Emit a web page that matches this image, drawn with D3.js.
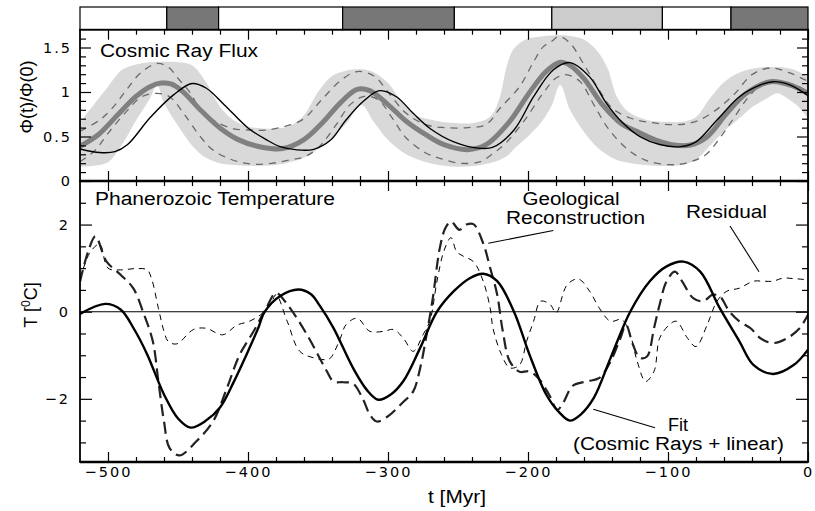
<!DOCTYPE html>
<html><head><meta charset="utf-8">
<script src="https://cdn.jsdelivr.net/npm/d3@7"></script>
<style>body{margin:0;background:#fff}svg{display:block}</style>
</head><body>
<svg id="c" width="815" height="511"></svg>
<script>
// ---- climate-mode band (Myr) ----
const periodStart = [-520, -458, -421, -332.4, -252.6, -183, -104, -55];
const periodEnd   = [-458, -421, -332.4, -252.6, -183, -104, -55, 0];
const periodMode  = ["warm", "cold", "warm", "cold", "warm", "cool", "warm", "cold"];

// ---- cosmic ray flux: allowed range ----
const tBand = [-520,-510,-500,-490,-480,-470,-465,-460,-450,-440,-430,-420,-410,-400,-390,-380,-370,-360,-350,-340,-330,-319,-310,-300,-290,-280,-270,-260,-250,-240,-230,-225,-220,-215,-210,-200,-190,-183,-177,-170,-160,-150,-143,-137,-130,-120,-110,-100,-90,-80,-70,-60,-50,-40,-30,-22,-15,-8,0];
const bandHigh = [0.66,0.86,1.06,1.25,1.31,1.335,1.34,1.34,1.335,1.30,1.11,0.835,0.68,0.61,0.59,0.59,0.62,0.74,1.0,1.18,1.24,1.255,1.22,1.10,0.89,0.74,0.69,0.66,0.65,0.65,0.69,0.76,0.95,1.3,1.49,1.6,1.625,1.635,1.64,1.63,1.59,1.45,1.26,0.96,0.8,0.71,0.67,0.665,0.665,0.72,0.93,1.11,1.21,1.26,1.28,1.28,1.27,1.24,1.17];
const bandLow  = [0.16,0.17,0.21,0.41,0.68,0.93,1.08,0.88,0.62,0.40,0.26,0.2,0.18,0.17,0.17,0.18,0.21,0.26,0.36,0.49,0.64,0.854,0.66,0.46,0.33,0.25,0.2,0.17,0.16,0.165,0.19,0.21,0.24,0.28,0.36,0.5,0.67,0.85,1.08,0.8,0.55,0.37,0.29,0.24,0.21,0.185,0.17,0.172,0.18,0.24,0.4,0.56,0.69,0.83,0.92,0.985,0.93,0.85,0.705];

// nominal CRF (thick grey)
const tNominal = [-520,-507,-493,-480,-470,-462,-455,-447,-433,-420,-407,-390,-375,-360,-347,-333,-322,-313,-300,-287,-273,-260,-243,-230,-213,-200,-187,-177,-170,-160,-147,-133,-120,-107,-96,-84,-72,-58,-44,-27,-13,0];
const crfNominal = [0.39,0.52,0.745,0.95,1.06,1.10,1.09,1.01,0.783,0.596,0.465,0.38,0.365,0.465,0.652,0.895,1.03,1.015,0.858,0.671,0.52,0.408,0.352,0.408,0.671,0.97,1.232,1.335,1.30,1.15,0.86,0.64,0.54,0.45,0.404,0.404,0.498,0.76,0.985,1.116,1.08,0.985];

// alternative reconstructions (dashed)
const tAltHigh = [-520,-506,-496,-487,-477,-465,-457,-449,-441,-434,-425,-411,-399,-387,-370,-360,-347,-333,-322,-310,-300,-287,-273,-260,-243,-230,-220,-206,-196,-189,-183,-178,-170,-160,-150,-140,-127,-110,-93,-80,-67,-53,-40,-27,-13,0];
const crfAltHigh = [0.56,0.685,0.835,1.02,1.21,1.32,1.28,1.135,0.985,0.798,0.685,0.59,0.573,0.573,0.63,0.7,0.92,1.14,1.23,1.18,1.0,0.76,0.633,0.6,0.6,0.633,0.817,1.06,1.34,1.51,1.57,1.625,1.55,1.307,1.045,0.82,0.708,0.652,0.633,0.67,0.783,0.97,1.195,1.27,1.214,1.12];
const tAltLow = [-520,-509,-500,-488,-476,-465,-456,-446,-434,-425,-411,-397,-383,-369,-360,-350,-337,-327,-317,-307,-297,-287,-273,-263,-249,-234,-225,-217,-203,-190,-180,-173,-163,-153,-143,-130,-117,-100,-87,-73,-63,-53,-43,-33,-20,-7,0];
const crfAltLow = [0.217,0.348,0.536,0.76,0.947,0.985,0.947,0.76,0.498,0.348,0.236,0.19,0.199,0.24,0.27,0.37,0.633,0.858,0.95,0.914,0.708,0.483,0.315,0.255,0.2,0.217,0.31,0.408,0.67,0.97,1.157,1.195,1.12,0.858,0.596,0.371,0.24,0.184,0.202,0.296,0.483,0.708,0.933,1.083,1.12,1.064,0.99];

// best-fit CRF (thin black)
const tFitCrf = [-520,-506,-495,-486,-470,-453,-440,-430,-417,-400,-387,-377,-365,-353,-341,-330,-318,-306,-294,-282,-270,-253,-234,-225,-210,-196,-182,-170,-156,-144,-132,-120,-106,-91,-80,-65,-49,-34,-25,-13,0];
const crfFit = [0.36,0.32,0.33,0.41,0.71,0.97,1.095,1.045,0.858,0.596,0.465,0.386,0.35,0.356,0.46,0.685,0.89,1.015,0.947,0.76,0.59,0.44,0.367,0.38,0.573,0.947,1.247,1.33,1.17,0.873,0.648,0.498,0.41,0.386,0.44,0.685,0.947,1.08,1.116,1.08,0.96];

// ---- Phanerozoic temperature ----
const tFit = [-520,-502,-491,-481,-472,-460,-450,-441,-430,-420,-410,-401,-393,-388,-377,-364,-355,-349,-339,-325,-315,-307,-298,-289,-277,-265,-253,-241,-232,-222,-210,-199,-187,-178,-170,-162,-153,-141,-127,-113,-101,-89,-77,-63,-49,-39,-25,-10,0];
const tempFit = [-0.05,0.18,0.05,-0.42,-0.98,-1.9,-2.45,-2.66,-2.5,-2.2,-1.6,-0.98,-0.4,0,0.36,0.51,0.4,0.15,-0.37,-1.29,-1.8,-2.02,-1.9,-1.59,-0.83,0,0.47,0.78,0.87,0.70,0,-0.98,-1.9,-2.3,-2.5,-2.35,-1.98,-1.06,0,0.70,1.04,1.15,0.92,0.08,-0.68,-1.22,-1.43,-1.22,-0.87];

const tGeo = [-520,-514,-509,-501,-491,-482,-475,-468,-464,-460,-456,-449,-437,-425,-415,-406,-396,-387,-380,-372,-358,-344,-339,-332,-325,-318,-313,-308,-300,-290,-282,-277,-272,-268,-263,-259,-255,-249,-244,-239,-232,-227,-222,-218,-213,-206,-199,-192,-185,-179,-175,-168,-158,-149,-141,-134,-130,-125,-120,-115,-110,-106,-101,-95,-90,-82,-75,-68,-63,-56,-49,-41,-34,-25,-15,-6,0];
const tempGeo = [0.69,1.4,1.73,1.15,0.85,0.54,0,-0.68,-1.6,-2.52,-3.13,-3.3,-2.98,-2.52,-1.75,-0.99,-0.45,0.08,0.43,0.17,-0.52,-1.35,-1.6,-1.62,-1.65,-2.0,-2.36,-2.52,-2.4,-2.1,-1.83,-1.29,-0.45,0.31,1.46,1.92,2.07,1.88,2.0,2.01,1.57,1.0,0.39,-0.45,-1.14,-1.38,-1.37,-1.55,-1.9,-2.25,-2.1,-1.7,-1.6,-1.52,-1.14,-0.61,-0.3,-0.76,-1.06,-1.03,-0.38,0.16,0.70,0.92,0.70,0.31,0.24,0.39,0.35,0,-0.22,-0.38,-0.61,-0.72,-0.61,-0.38,-0.07];

const tRes = [-520,-513,-506,-500,-491,-480,-472,-469,-464,-460,-457,-451,-439,-430,-418,-408,-399,-391,-384,-380,-372,-363,-353,-344,-341,-334,-330,-322,-313,-303,-296,-289,-282,-275,-270,-265,-260,-255,-251,-246,-239,-232,-227,-225,-219,-213,-206,-201,-196,-191,-184,-180,-172,-164,-156,-149,-141,-133,-127,-122,-116,-110,-106,-99,-94,-86,-80,-72,-65,-58,-49,-39,-32,-25,-18,-10,0];
const tempRes = [0.74,1.35,1.55,1.0,0.96,0.99,0.96,0.77,0.08,-0.45,-0.68,-0.74,-0.41,-0.38,-0.53,-0.31,-0.22,-0.07,0.16,0.39,-0.22,-0.91,-1.06,-1.1,-1.06,-0.61,-0.3,-0.15,-0.45,-0.45,-0.41,-0.61,-0.91,-0.53,-0.2,0.7,1.4,1.7,1.38,1.27,1.15,0.70,0.08,-0.38,-0.98,-1.29,-1.22,-0.68,-0.22,0.24,0.16,-0.03,0.62,0.75,0.47,0.08,-0.22,-0.18,-0.53,-1.14,-1.6,-1.37,-0.61,-0.3,-0.22,-0.61,-0.8,-0.3,0.24,0.47,0.54,0.70,0.70,0.70,0.77,0.76,0.73];

// ---- ticks ----
const xMajor = [-500,-400,-300,-200,-100,0];
const xMinor = d3.range(-500, 0, 20).filter(v => v % 100 !== 0);
const yUMajor = [0, 0.5, 1, 1.5];
const yUMinor = d3.range(1, 17).map(v => v / 10).filter(v => Math.round(v * 10) % 5 !== 0);
const yLMajor = [-2, 0, 2];
const yLMinor = [-3,-2.5,-1.5,-1,-0.5,0.5,1,1.5,2.5];

// ---- layout ----
const L = 80, R = 808, TOPU = 29.7, MID = 181, BOT = 462;
const svg = d3.select('#c');
const x = d3.scaleLinear().domain([-520, 0]).range([L, R]);
const yU = d3.scaleLinear().domain([0, 1.7]).range([MID, TOPU]);
const yL = d3.scaleLinear().domain([-3.45, 3]).range([BOT, MID]);
const FONT = "'Liberation Sans', Arial, Helvetica, sans-serif";
const TFONT = "'DejaVu Sans', sans-serif";

const defs = svg.append('defs');
defs.append('clipPath').attr('id','cu').append('rect').attr('x',L).attr('y',TOPU).attr('width',R-L).attr('height',MID-TOPU);
defs.append('clipPath').attr('id','cl').append('rect').attr('x',L).attr('y',MID).attr('width',R-L).attr('height',BOT-MID);

// period band
const modeFill = {warm:'#ffffff', cold:'#777777', cool:'#cccccc'};
svg.append('g').selectAll('rect').data(periodStart).join('rect')
  .attr('x', (d,i) => x(d)).attr('y', 7)
  .attr('width', (d,i) => x(periodEnd[i]) - x(d)).attr('height', TOPU - 7)
  .attr('fill', (d,i) => modeFill[periodMode[i]])
  .attr('stroke', '#000').attr('stroke-width', 1.2);

const cr = d3.curveCatmullRom.alpha(0.5);
function mkLine(ts, vs, ys) {
  return d3.line().x((d,i) => x(ts[i])).y((d,i) => ys(vs[i])).curve(cr)(ts);
}

// upper panel
const gU = svg.append('g').attr('clip-path','url(#cu)');
gU.append('path')
  .attr('d', d3.area().x((d,i)=>x(tBand[i])).y0((d,i)=>yU(bandLow[i])).y1((d,i)=>yU(bandHigh[i])).curve(cr)(tBand))
  .attr('fill', '#d9d9d9');
gU.append('path').attr('d', mkLine(tAltHigh, crfAltHigh, yU)).attr('fill','none').attr('stroke','#6a6a6a').attr('stroke-width',1.3).attr('stroke-dasharray','7,6');
gU.append('path').attr('d', mkLine(tAltLow, crfAltLow, yU)).attr('fill','none').attr('stroke','#6a6a6a').attr('stroke-width',1.3).attr('stroke-dasharray','7,6');
gU.append('path').attr('d', mkLine(tNominal, crfNominal, yU)).attr('fill','none').attr('stroke','#808080').attr('stroke-width',5);
gU.append('path').attr('d', mkLine(tFitCrf, crfFit, yU)).attr('fill','none').attr('stroke','#000').attr('stroke-width',1.4);

// lower panel
const gL = svg.append('g').attr('clip-path','url(#cl)');
gL.append('line').attr('x1',L).attr('x2',R).attr('y1',yL(0)).attr('y2',yL(0)).attr('stroke','#000').attr('stroke-width',1.1);
gL.append('path').attr('d', mkLine(tRes, tempRes, yL)).attr('fill','none').attr('stroke','#000').attr('stroke-width',1).attr('stroke-dasharray','6,5');
gL.append('path').attr('d', mkLine(tGeo, tempGeo, yL)).attr('fill','none').attr('stroke','#222').attr('stroke-width',2.2).attr('stroke-dasharray','12,6');
gL.append('path').attr('d', mkLine(tFit, tempFit, yL)).attr('fill','none').attr('stroke','#000').attr('stroke-width',2.4);

// axes/ticks
function tickAxis(axisFn, scale, vals, size, pos, labels, fmt, pad) {
  const a = axisFn(scale).tickValues(vals).tickSize(-size).tickPadding(pad || 0);
  if (labels) a.tickFormat(fmt); else a.tickFormat('');
  const g = svg.append('g').attr('transform', pos).call(a);
  g.select('.domain').remove();
  g.selectAll('.tick line').attr('stroke','#000').attr('stroke-width',1.2);
  return g;
}
const fmt = d => d3.format('')(d);
// x ticks
const gxb = tickAxis(d3.axisBottom, x, xMajor, 10, `translate(0,${BOT})`, true, d => d3.format('')(d), 4.5);
tickAxis(d3.axisBottom, x, xMinor, 5, `translate(0,${BOT})`, false);
tickAxis(d3.axisTop, x, xMajor, 10, `translate(0,${MID})`, false);
tickAxis(d3.axisTop, x, xMinor, 5, `translate(0,${MID})`, false);
tickAxis(d3.axisBottom, x, xMajor, 10, `translate(0,${MID})`, false);
tickAxis(d3.axisBottom, x, xMinor, 5, `translate(0,${MID})`, false);
tickAxis(d3.axisTop, x, xMajor, 10, `translate(0,${TOPU})`, false);
tickAxis(d3.axisTop, x, xMinor, 5, `translate(0,${TOPU})`, false);
// y ticks upper
const gyu = tickAxis(d3.axisLeft, yU, yUMajor, 11, `translate(${L},0)`, true, d => d3.format('')(d), 8);
tickAxis(d3.axisLeft, yU, yUMinor, 6, `translate(${L},0)`, false);
tickAxis(d3.axisRight, yU, yUMajor, 11, `translate(${R},0)`, false);
tickAxis(d3.axisRight, yU, yUMinor, 6, `translate(${R},0)`, false);
// y ticks lower
const gyl = tickAxis(d3.axisLeft, yL, yLMajor, 12, `translate(${L},0)`, true, d => d3.format('')(d), 10);
tickAxis(d3.axisLeft, yL, yLMinor, 6, `translate(${L},0)`, false);
tickAxis(d3.axisRight, yL, yLMajor, 12, `translate(${R},0)`, false);
tickAxis(d3.axisRight, yL, yLMinor, 6, `translate(${R},0)`, false);
[gxb, gyu, gyl].forEach(g => g.selectAll('.tick text').attr('font-family', TFONT).attr('font-size', 14.5).attr('letter-spacing', '2px').attr('fill','#000'));

// frames
svg.append('rect').attr('x',L).attr('y',TOPU).attr('width',R-L).attr('height',MID-TOPU).attr('fill','none').attr('stroke','#000').attr('stroke-width',1.8);
svg.append('rect').attr('x',L).attr('y',MID).attr('width',R-L).attr('height',BOT-MID).attr('fill','none').attr('stroke','#000').attr('stroke-width',1.8);
svg.append('line').attr('x1',L).attr('x2',R).attr('y1',BOT).attr('y2',BOT).attr('stroke','#000').attr('stroke-width',2.6);
svg.append('line').attr('x1',L).attr('x2',R).attr('y1',MID).attr('y2',MID).attr('stroke','#000').attr('stroke-width',2.6);

// text labels
function txt(s, xx, yy, len, anchor, size) {
  const t = svg.append('text').attr('x', xx).attr('y', yy).text(s)
    .attr('font-family', FONT).attr('font-size', size || 18).attr('fill', '#000')
    .attr('text-anchor', anchor || 'start');
  if (len) t.attr('textLength', len).attr('lengthAdjust', 'spacingAndGlyphs');
  return t;
}
txt('Cosmic Ray Flux', 100, 56.5, 158);
txt('Phanerozoic Temperature', 95, 205, 240);
txt('Geological', 571, 205, 97, 'middle');
txt('Reconstruction', 575.5, 224, 139, 'middle');
txt('Residual', 726.5, 217.5, 81, 'middle');
txt('Fit', 678, 431, 20, 'middle');
txt('(Cosmic Rays + linear)', 678.5, 449.5, 211, 'middle');
txt('t [Myr]', 457, 503, 58, 'middle');

// rotated axis titles
svg.append('text').attr('transform','translate(33,97) rotate(-90)').attr('text-anchor','middle')
  .attr('font-family', FONT).attr('font-size', 18).attr('textLength', 73).attr('lengthAdjust','spacingAndGlyphs')
  .text('Φ(t)/Φ(0)');
const tt = svg.append('text').attr('transform','translate(37,305) rotate(-90)').attr('text-anchor','middle')
  .attr('font-family', FONT).attr('font-size', 18);
tt.append('tspan').text('T [');
tt.append('tspan').attr('font-size', 12).attr('dy', -7).text('0');
tt.append('tspan').attr('dy', 7).text('C]');

// pointers
const ptr = [[488.3,243.3,553.3,230.5],[730,226,759,271.7],[593.3,409.3,655,427.7]];
svg.append('g').selectAll('line').data(ptr).join('line')
  .attr('x1', d=>d[0]).attr('y1', d=>d[1]).attr('x2', d=>d[2]).attr('y2', d=>d[3])
  .attr('stroke','#000').attr('stroke-width',1.1);
</script>
</body></html>
